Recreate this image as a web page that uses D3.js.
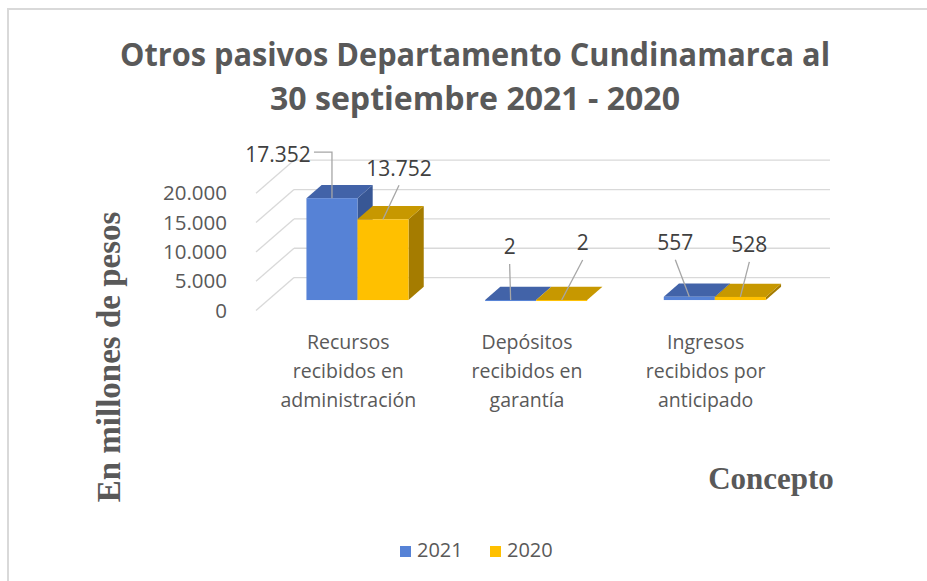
<!DOCTYPE html>
<html>
<head>
<meta charset="utf-8">
<script src="https://cdn.jsdelivr.net/npm/d3@7"></script>
<style>
  body { margin: 0; background: #fff; }
  svg text { font-family: "Open Sans", sans-serif; fill: #595959; }
</style>
</head>
<body>
<svg id="chart" width="927" height="581"></svg>
<script>
// data
const categories = [
  ["Recursos", "recibidos en", "administración"],
  ["Depósitos", "recibidos en", "garantía"],
  ["Ingresos", "recibidos por", "anticipado"]
]
const series = ["2021", "2020"]
const values2021 = [17352, 2, 557]
const values2020 = [13752, 2, 528]
const yTicks = [0, 5000, 10000, 15000, 20000]

// layout
const width = 927, height = 581
const DX = 38, DY = -33          // full depth of the 3d box
const zFront = 0.32, zBack = 0.72 // bar depth inside the box
const colors = {
  "2021": {front: "#5682D6", top: "#4263A8", side: "#385795"},
  "2020": {front: "#FFC000", top: "#C79800", side: "#A57C00"}
}
// label offsets from the top-front centre of each bar [series][category]
const labelOffsets = {
  "2021": [[-54, -44], [-1, -53], [-14, -54]],
  "2020": [[16, -51], [21, -57], [9, -52]]
}

const loc = d3.formatLocale({decimal: ",", thousands: ".", grouping: [3], currency: ["$", ""]})
const fmt = loc.format(",d")

const svg = d3.select("#chart")

svg.append("rect")
  .attr("x", 8).attr("y", 9).attr("width", 1000).attr("height", 1000)
  .attr("fill", "none").attr("stroke", "#D9D9D9").attr("stroke-width", 2)

const catIdx = categories.map((c, i) => i)
const xBand = d3.scaleBand().domain(catIdx).range([256, 792])
const xSub = d3.scaleBand().domain(series).range([0, xBand.bandwidth()]).paddingOuter(0.75)
const y = d3.scaleLinear().domain([0, 20000]).range([310.6, 193.2])

const proj = (x, v, z) => [x + z * DX, y(v) + z * DY]
const line = d3.line()

// grid: back wall + left side
const [x0, x1] = xBand.range()
const grid = svg.append("g").attr("stroke", "#D9D9D9").attr("stroke-width", 1.3).attr("fill", "none")
yTicks.forEach(t => {
  grid.append("path").attr("d", line([proj(x0, t, 0), proj(x0, t, 1)]))
  grid.append("path").attr("d", line([proj(x0, t, 1), proj(x1, t, 1)]))
})

// y tick labels
svg.append("g").selectAll("text").data(yTicks).join("text")
  .attr("x", 227).attr("y", d => y(d)).attr("dy", "0.35em")
  .attr("text-anchor", "end").attr("font-size", 20.5)
  .text(d => fmt(d))

// bars
const bars = []
catIdx.forEach(i => {
  series.forEach(s => {
    const v = s === "2021" ? values2021[i] : values2020[i]
    bars.push({cat: i, s, v})
  })
})

const gBars = svg.append("g")
bars.forEach(b => {
  const xl = xBand(b.cat) + xSub(b.s)
  const xr = xl + xSub.bandwidth()
  const c = colors[b.s]
  const g = gBars.append("g")
  g.append("path").attr("fill", c.side)
    .attr("d", line([proj(xr, b.v, zFront), proj(xr, 0, zFront), proj(xr, 0, zBack), proj(xr, b.v, zBack)]) + "Z")
  g.append("path").attr("fill", c.top)
    .attr("d", line([proj(xl, b.v, zFront), proj(xr, b.v, zFront), proj(xr, b.v, zBack), proj(xl, b.v, zBack)]) + "Z")
  const p0 = proj(xl, b.v, zFront), p1 = proj(xr, 0, zFront)
  g.append("rect").attr("fill", c.front)
    .attr("x", p0[0]).attr("y", p0[1])
    .attr("width", p1[0] - p0[0]).attr("height", Math.max(p1[1] - p0[1], 1))
  b.anchor = proj((xl + xr) / 2, b.v, zFront)
})

// data labels with leader lines
const gLab = svg.append("g")
bars.forEach(b => {
  const off = labelOffsets[b.s][b.cat]
  const lx = b.anchor[0] + off[0], ly = b.anchor[1] + off[1]
  let pts
  if (off[0] < -30) {
    pts = [b.anchor, [b.anchor[0], ly - 2], [lx + 36, ly - 2]]
  } else {
    pts = [b.anchor, [lx, ly + 17]]
  }
  gLab.append("path").attr("d", line(pts))
    .attr("fill", "none").attr("stroke", "#A6A6A6").attr("stroke-width", 1.3)
  gLab.append("text")
    .attr("x", lx).attr("y", ly).attr("dy", "0.35em")
    .attr("text-anchor", "middle").attr("font-size", 21)
    .style("fill", "#404040")
    .text(fmt(b.v))
})

// category labels
const gCat = svg.append("g")
catIdx.forEach(i => {
  const cx = xBand(i) + xBand.bandwidth() / 2 + 3
  gCat.append("text").attr("text-anchor", "middle").attr("font-size", 19.5)
    .selectAll("tspan").data(categories[i]).join("tspan")
    .attr("x", cx).attr("y", (d, k) => 349 + k * 29)
    .text(d => d)
})

// title
const titleLines = ["Otros pasivos Departamento Cundinamarca al", "30 septiembre 2021 - 2020"]
const titleWidths = [710, 410]
titleLines.forEach((t, k) => {
  svg.append("text")
    .attr("x", 475).attr("y", 66 + k * 44)
    .attr("text-anchor", "middle").attr("font-size", 33).attr("font-weight", "bold")
    .attr("textLength", titleWidths[k]).attr("lengthAdjust", "spacingAndGlyphs")
    .text(t)
})

// axis titles
svg.append("text")
  .attr("transform", "translate(120,357) rotate(-90)")
  .attr("text-anchor", "middle").attr("font-size", 33).attr("font-weight", "bold")
  .style("font-family", "'Liberation Serif', 'Times New Roman', serif")
  .text("En millones de pesos")

svg.append("text")
  .attr("x", 771).attr("y", 489)
  .attr("text-anchor", "middle").attr("font-size", 31).attr("font-weight", "bold")
  .style("font-family", "'Liberation Serif', 'Times New Roman', serif")
  .text("Concepto")

// legend
const legend = svg.append("g")
const legendX = [400, 490]
series.forEach((s, k) => {
  legend.append("rect").attr("x", legendX[k]).attr("y", 546).attr("width", 11).attr("height", 11)
    .attr("fill", colors[s].front)
  legend.append("text").attr("x", legendX[k] + 17).attr("y", 557).attr("font-size", 20).text(s)
})
</script>
</body>
</html>
